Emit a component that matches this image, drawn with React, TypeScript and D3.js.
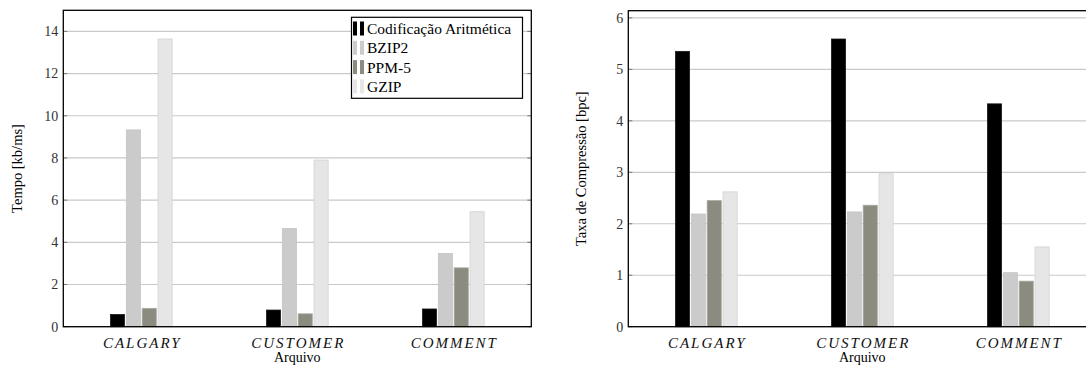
import React from 'react';
import * as d3 from 'd3';

// files on the x axis
const categories = ['CALGARY', 'CUSTOMER', 'COMMENT'];
// compressors (legend order)
const series = ['Codificação Aritmética', 'BZIP2', 'PPM-5', 'GZIP'];

// Tempo [kb/ms], one row per file, in series order
const tempoCalgary = [0.58, 9.33, 0.87, 13.64];
const tempoCustomer = [0.79, 4.65, 0.61, 7.9];
const tempoComment = [0.84, 3.47, 2.79, 5.45];
const tempoTicks = [0, 2, 4, 6, 8, 10, 12, 14];

// Taxa de Compressao [bpc]
const taxaCalgary = [5.35, 2.19, 2.45, 2.62];
const taxaCustomer = [5.59, 2.23, 2.36, 2.97];
const taxaComment = [4.33, 1.05, 0.885, 1.55];
const taxaTicks = [0, 1, 2, 3, 4, 5, 6];

const fills = ['#000000', '#cbcbcb', '#8b8b80', '#e6e6e6'];
const strokes = ['#1a1a1a', '#c4c4c4', '#a9a9a0', '#d2d2d2'];

const FONT = "'Liberation Serif', 'Times New Roman', Times, serif";

type ChartProps = {
  left: number;
  top: number;
  bottom: number;
  width: number;
  ymax: number;
  ticks: number[];
  rows: number[][];
  ylabel: string;
  ylabelX: number;
  legend?: boolean;
};

function Chart(props: ChartProps) {
  const { left, top, bottom, width, ymax, ticks, rows, ylabel, ylabelX, legend } = props;

  const x = d3.scaleBand().domain(categories).range([left, left + width]).padding(0);
  const inner = d3.scaleBand().domain(series).range([-30.85, 30.85]).paddingInner(0.11);
  const y = d3.scaleLinear().domain([0, ymax]).range([bottom, top]);

  const right = left + width;
  const midY = (top + bottom) / 2;

  return (
    <g>
      {/* grid */}
      {ticks.map((t) => (
        <line key={'g' + t} x1={left} x2={right} y1={y(t)} y2={y(t)} stroke="#c9c9c9" strokeWidth={1.2} />
      ))}
      {/* tick marks both sides */}
      {ticks.map((t) => (
        <g key={'t' + t}>
          <line x1={left} x2={left + 4} y1={y(t)} y2={y(t)} stroke="#777" />
          <line x1={right - 4} x2={right} y1={y(t)} y2={y(t)} stroke="#777" />
          <text x={left - 5} y={y(t)} dy="0.35em" textAnchor="end" fontSize={14} fill="#333">
            {t}
          </text>
        </g>
      ))}

      {/* bars */}
      {rows.map((row, ci) =>
        row.map((v, si) => {
          const cx = (x(categories[ci]) as number) + x.bandwidth() / 2;
          const bx = cx + (inner(series[si]) as number);
          return (
            <rect
              key={ci + '-' + si}
              x={bx}
              y={y(v)}
              width={inner.bandwidth()}
              height={bottom - y(v)}
              fill={fills[si]}
              stroke={strokes[si]}
              strokeWidth={0.8}
            />
          );
        })
      )}

      {/* frame */}
      <rect x={left} y={top} width={width} height={bottom - top} fill="none" stroke="#000" strokeWidth={1.3} />

      {/* x labels */}
      {categories.map((c) => (
        <text
          key={c}
          x={(x(c) as number) + x.bandwidth() / 2 + 1}
          y={bottom + 21}
          textAnchor="middle"
          fontSize={15}
          fontStyle="italic"
          letterSpacing={2}
          fill="#111"
        >
          {c}
        </text>
      ))}
      <text x={left + width / 2} y={bottom + 35.5} textAnchor="middle" fontSize={14} fill="#000">
        Arquivo
      </text>

      <text
        transform={`translate(${ylabelX},${midY}) rotate(-90)`}
        textAnchor="middle"
        fontSize={14.5}
        fill="#000"
      >
        {ylabel}
      </text>

      {legend && (
        <g>
          <rect x={351.5} y={17.3} width={171} height={81} fill="#fff" stroke="#000" strokeWidth={1.2} />
          {series.map((s, i) => {
            const cy = 28.5 + i * 19.3;
            return (
              <g key={s}>
                <rect x={353} y={cy - 7} width={4} height={14} fill={fills[i]} />
                <rect x={360} y={cy - 7} width={4} height={14} fill={fills[i]} />
                <text x={367} y={cy} dy="0.35em" fontSize={15.5} fill="#000">
                  {s}
                </text>
              </g>
            );
          })}
        </g>
      )}
    </g>
  );
}

export default function App() {
  return (
    <svg
      width={1086}
      height={367}
      style={{ position: 'absolute', left: 0, top: 0, background: '#fff', fontFamily: FONT }}
    >
      <rect x={0} y={0} width={1086} height={367} fill="#fff" />
      <Chart
        left={63.3}
        top={10.3}
        bottom={326.7}
        width={468}
        ymax={15}
        ticks={tempoTicks}
        rows={[tempoCalgary, tempoCustomer, tempoComment]}
        ylabel="Tempo [kb/ms]"
        ylabelX={22}
        legend
      />
      <Chart
        left={628.3}
        top={10.7}
        bottom={326.7}
        width={468}
        ymax={6.14}
        ticks={taxaTicks}
        rows={[taxaCalgary, taxaCustomer, taxaComment]}
        ylabel="Taxa de Compressão [bpc]"
        ylabelX={586}
      />
    </svg>
  );
}
